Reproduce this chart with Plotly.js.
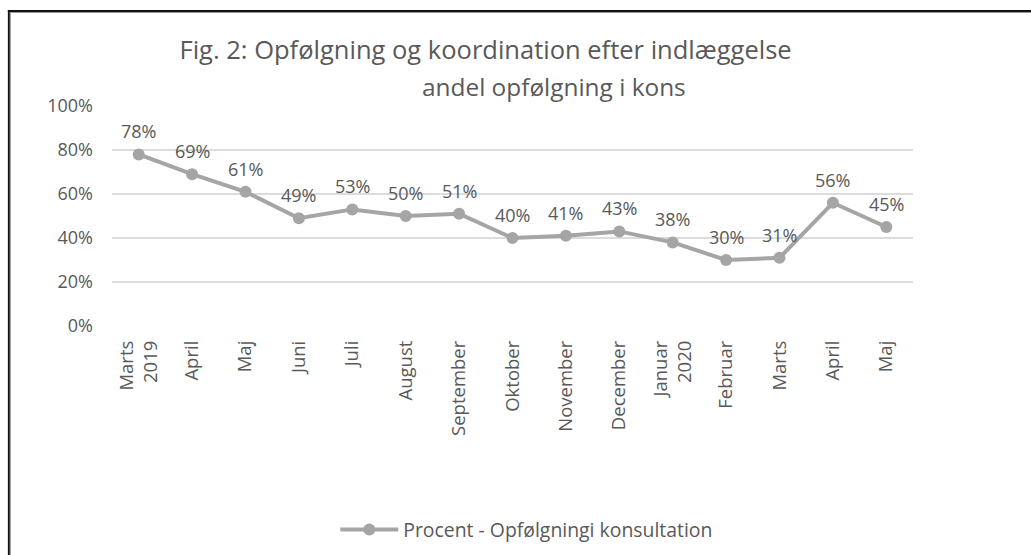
<!DOCTYPE html>
<html>
<head>
<meta charset="utf-8">
<script src="https://cdn.plot.ly/plotly-3.0.1.min.js"></script>
<style>
  html, body { margin: 0; padding: 0; background: #fff; overflow: hidden; }
  #chart { width: 1031px; height: 555px; }
</style>
</head>
<body>
<div id="chart"></div>
<script>
const categories = ["Marts<br>2019", "April", "Maj", "Juni", "Juli", "August", "September",
  "Oktober", "November", "December", "Januar<br>2020", "Februar", "Marts", "April", "Maj"];
const values = [0.78, 0.69, 0.61, 0.49, 0.53, 0.50, 0.51, 0.40, 0.41, 0.43, 0.38, 0.30, 0.31, 0.56, 0.45];
const seriesName = "Procent - Opfølgningi konsultation";
const titleText = "Fig. 2: Opfølgning og koordination efter indlæggelse";
const subtitleText = "andel opfølgning i kons";
const yTicks = [0, 0.2, 0.4, 0.6, 0.8, 1.0];
const yTickLabels = ["0%", "20%", "40%", "60%", "80%", "100%"];

const FONT = "'Open Sans', 'Liberation Sans', sans-serif";
const TXT = "#595959";
const idx = categories.map((c, i) => i);

// page-pixel helpers for the outer frame (plot area: x 112..912, y 106..326)
const px = p => (p - 112) / 800;
const py = p => (326 - p) / 220;

const trace = {
  x: idx,
  y: values,
  type: "scatter",
  mode: "lines+markers",
  name: seriesName,
  line: { color: "#A5A5A5", width: 4 },
  marker: { color: "#A5A5A5", size: 12 },
  cliponaxis: false,
  showlegend: true
};

const labelAnnotations = values.map((v, i) => ({
  x: i, y: v, xref: "x", yref: "y",
  text: Math.round(v * 100) + "%",
  showarrow: false,
  xanchor: "center", yanchor: "middle",
  yshift: 23,
  font: { family: FONT, size: 18, color: TXT }
}));

const layout = {
  width: 1031,
  height: 555,
  margin: { l: 112, r: 118, t: 106, b: 229, autoexpand: false },
  paper_bgcolor: "#ffffff",
  plot_bgcolor: "#ffffff",
  font: { family: FONT, color: TXT },
  title: {
    text: titleText,
    font: { family: FONT, size: 25.5, color: TXT },
    xref: "container", x: 0.471, xanchor: "center",
    yref: "container", y: 1 - 50 / 555, yanchor: "middle"
  },
  annotations: [{
    text: subtitleText,
    xref: "paper", yref: "paper",
    x: px(553), y: py(86),
    xanchor: "center", yanchor: "middle",
    showarrow: false,
    font: { family: FONT, size: 24.4, color: TXT }
  }].concat(labelAnnotations),
  shapes: [
    { type: "line", xref: "paper", yref: "paper", x0: px(9), x1: px(9), y0: py(10), y1: py(600),
      line: { color: "#111111", width: 2 }, layer: "above" },
    { type: "line", xref: "paper", yref: "paper", x0: px(8), x1: px(1031), y0: py(11), y1: py(11),
      line: { color: "#111111", width: 2 }, layer: "above" },
    { type: "line", xref: "paper", yref: "paper", x0: px(10.5), x1: px(10.5), y0: py(12), y1: py(600),
      line: { color: "#9a9a9a", width: 1 }, layer: "above" },
    { type: "line", xref: "paper", yref: "paper", x0: px(10), x1: px(1031), y0: py(12.5), y1: py(12.5),
      line: { color: "#9a9a9a", width: 1 }, layer: "above" }
  ],
  xaxis: {
    range: [-0.5, categories.length - 0.5],
    tickvals: idx,
    ticktext: categories,
    tickangle: -90,
    tickfont: { family: FONT, size: 18.5, color: TXT },
    showgrid: false,
    zeroline: false,
    showline: false,
    ticks: "",
    ticklabelstandoff: 10,
    automargin: false,
    fixedrange: true
  },
  yaxis: {
    range: [0, 1],
    tickvals: yTicks,
    ticktext: yTickLabels,
    tickfont: { family: FONT, size: 18, color: TXT },
    showgrid: true,
    gridcolor: "#DCDCDC",
    gridwidth: 1.5,
    zeroline: false,
    showline: false,
    ticks: "",
    ticklabelstandoff: 18,
    automargin: false,
    fixedrange: true
  },
  showlegend: true,
  legend: {
    orientation: "h",
    x: px(335), xanchor: "left",
    y: py(530), yanchor: "middle",
    itemwidth: 58,
    font: { family: FONT, size: 19.4, color: TXT },
    bgcolor: "rgba(0,0,0,0)"
  }
};

Plotly.newPlot("chart", [trace], layout, { displayModeBar: false, staticPlot: true });
</script>
</body>
</html>
